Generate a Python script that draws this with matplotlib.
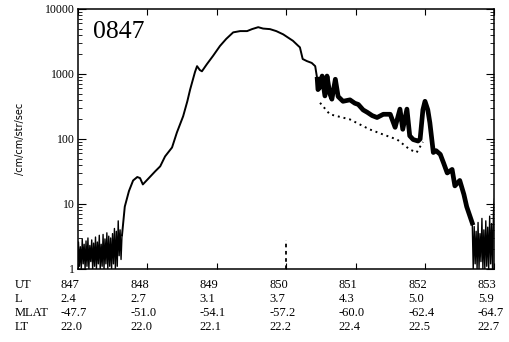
#!/usr/bin/env python3
"""Particle flux pass 0847 with UT / L / MLAT / LT ephemeris table."""

import matplotlib
matplotlib.use("Agg")
import matplotlib.pyplot as plt
import matplotlib.transforms as mtransforms
import numpy as np
from matplotlib.ticker import LogLocator, NullFormatter, FixedLocator, FixedFormatter

# ephemeris table
ut = [847, 848, 849, 850, 851, 852, 853]
l_shell = ["2.4", "2.7", "3.1", "3.7", "4.3", "5.0", "5.9"]
mlat = ["-47.7", "-51.0", "-54.1", "-57.2", "-60.0", "-62.4", "-64.7"]
lt = ["22.0", "22.0", "22.1", "22.2", "22.4", "22.5", "22.7"]

# background noise before the rise (847.00 - 847.64)
left_noise = [1.0, 2.6, 1.1, 2.2, 1.0, 2.9, 1.2, 2.4, 1.0, 2.7, 1.1, 3.0, 1.0,
              2.3, 1.3, 2.8, 1.0, 2.5, 1.1, 3.1, 1.0, 2.6, 1.2, 3.3, 1.0, 2.4,
              1.1, 3.4, 1.0, 2.9, 1.2, 3.6, 1.0, 3.2, 1.1, 3.0, 1.0, 3.5, 1.2,
              4.2, 1.0, 3.8, 1.1, 5.5, 1.6, 4.0, 1.4, 3.3]

# main flux, rise and plateau
rise_t = [847.64, 847.68, 847.74, 847.80, 847.86, 847.90, 847.94, 848.01,
          848.12, 848.19, 848.26, 848.36, 848.43, 848.52, 848.58, 848.62,
          848.69, 848.72, 848.76, 848.79, 848.86, 848.95, 849.05, 849.14,
          849.24, 849.34, 849.44, 849.51, 849.60, 849.67, 849.77, 849.86,
          849.96, 850.03, 850.10, 850.17, 850.20, 850.24, 850.30, 850.37,
          850.42, 850.45]
rise_flux = [3.3, 9.1, 15.8, 23, 26, 25, 20, 24, 32, 38, 54, 74, 126, 224,
             380, 575, 1070, 1320, 1150, 1100, 1410, 1900, 2700, 3470, 4370,
             4570, 4570, 4900, 5250, 5000, 4900, 4570, 4070, 3630, 3240, 2750,
             2570, 1700, 1580, 1480, 1320, 830]

# main flux, spiky decay
decay_t = [850.45, 850.46, 850.49, 850.52, 850.56, 850.59, 850.63, 850.66,
           850.71, 850.75, 850.82, 850.92, 850.99, 851.04, 851.11, 851.17,
           851.24, 851.31, 851.40, 851.50, 851.57, 851.64, 851.68, 851.74,
           851.78, 851.83, 851.90, 851.93, 851.97, 852.00, 852.04, 852.07,
           852.12, 852.16, 852.22, 852.27, 852.32, 852.39, 852.43, 852.50,
           852.56, 852.60, 852.68]
decay_flux = [830, 575, 630, 930, 460, 930, 500, 410, 830, 450, 380, 400, 355,
              340, 280, 257, 229, 214, 240, 240, 151, 288, 141, 288, 112, 98,
              93, 100, 282, 380, 282, 178, 62, 66, 58, 42, 30, 34, 19, 23, 14,
              9.1, 5.1]

# second (dotted) channel
dot_t = [850.49, 850.63, 850.92, 851.20, 851.40, 851.60, 851.78, 851.88, 851.97]
dot_flux = [360, 240, 200, 141, 117, 98, 69, 62, 90]

# noise at end of pass (852.68 - 853.00)
right_noise = [5.1, 1.0, 4.5, 1.2, 3.8, 1.0, 5.2, 1.0, 3.5, 1.3, 6.0, 1.0,
               4.0, 1.0, 5.5, 1.1, 4.4, 1.0, 6.5, 1.2, 5.0, 1.0, 8.0, 12.0]

marker_t = 850.0
marker_top = 2.8

SERIF = ["Liberation Serif", "DejaVu Serif"]

fig = plt.figure(figsize=(5.09, 3.42), dpi=100)
ax = fig.add_axes([0.1523, 0.2135, 0.8192, 0.7602])

ax.plot(np.linspace(847.0, 847.64, len(left_noise)), left_noise, color="black", lw=1.0)
ax.plot(rise_t, rise_flux, color="black", lw=1.4)
ax.plot(decay_t, decay_flux, color="black", lw=3.4)
ax.plot(dot_t, dot_flux, color="black", lw=1.4, ls=(0, (1, 2)))
ax.plot(np.linspace(852.68, 853.0, len(right_noise)), right_noise, color="black", lw=1.0)
ax.plot([marker_t, marker_t], [1, marker_top], color="black", lw=1.3, ls=(0, (2, 2)))

ax.set_xlim(847, 853)
ax.set_yscale("log")
ax.set_ylim(1, 10000)

ax.xaxis.set_major_locator(FixedLocator(ut))
ax.tick_params(axis="x", which="both", direction="in", top=True, bottom=True,
               labelbottom=False, length=4, width=0.8)
ax.yaxis.set_major_locator(FixedLocator([1, 10, 100, 1000, 10000]))
ax.yaxis.set_major_formatter(FixedFormatter(["1", "10", "100", "1000", "10000"]))
ax.yaxis.set_minor_locator(LogLocator(base=10, subs=np.arange(2, 10)))
ax.yaxis.set_minor_formatter(NullFormatter())
ax.tick_params(axis="y", which="major", direction="in", left=True, right=True,
               length=6, width=0.8, pad=2)
ax.tick_params(axis="y", which="minor", direction="in", left=True, right=True,
               length=3, width=0.6)
for lab in ax.get_yticklabels():
    lab.set_fontfamily(SERIF)
    lab.set_fontsize(8.5)
for sp in ax.spines.values():
    sp.set_linewidth(1.1)

ax.set_ylabel("/cm/cm/str/sec", fontsize=7, labelpad=14)
ax.text(0.037, 0.888, "0847", transform=ax.transAxes, fontsize=18.5,
        family=SERIF, ha="left", va="baseline")

# ephemeris table under the axis
trans = mtransforms.blended_transform_factory(ax.transData, fig.transFigure)
rows = [("UT", [str(u) for u in ut]), ("L", l_shell), ("MLAT", mlat), ("LT", lt)]
row_y = [0.1667, 0.1257, 0.0848, 0.0439]
for (name, vals), y in zip(rows, row_y):
    fig.text(0.029, y, name, fontsize=9, family=SERIF, ha="left", va="center")
    for u, v in zip(ut, vals):
        ax.text(u - 0.24, y, v, transform=trans, fontsize=9, family=SERIF,
                ha="left", va="center", clip_on=False)

fig.savefig("out.png", dpi=100)
